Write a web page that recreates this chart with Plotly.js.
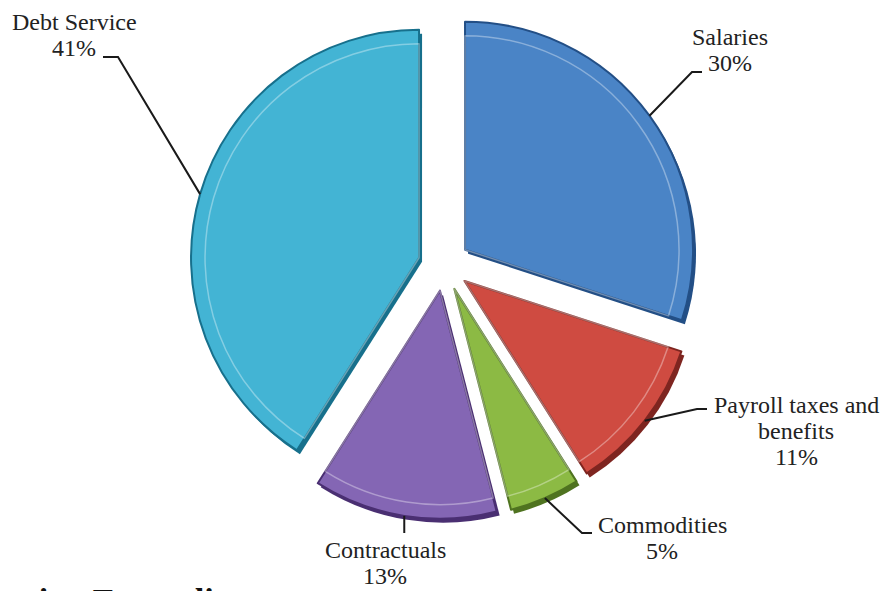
<!DOCTYPE html>
<html>
<head>
<meta charset="utf-8">
<script src="https://cdn.plot.ly/plotly-3.0.1.min.js"></script>
<style>html,body{margin:0;padding:0;background:#fff;overflow:hidden}#chart{width:886px;height:591px}</style>
</head>
<body>
<div id="chart"></div>
<script>
// ---- data ----
const categories = ['Salaries', 'Payroll taxes and benefits', 'Commodities', 'Contractuals', 'Debt Service'];
const values = [30, 11, 5, 13, 41];
const percentLabels = ['30%', '11%', '5%', '13%', '41%'];
const labelLines = [['Salaries'], ['Payroll taxes and', 'benefits'], ['Commodities'], ['Contractuals'], ['Debt Service']];
const pageTitle = 'Operation Expenditures';

// ---- styling / layout ----
const W = 886, H = 591;
const faceColors = ['#4a84c6', '#cf4b41', '#8cba44', '#8466b4', '#43b4d4'];
const edgeColors = ['#234f86', '#7e2520', '#4f7320', '#4a2f72', '#17708c'];
const CX = 444, CY = 265, R = 228, PULL = 0.114;
const half = R * (1 + PULL);
const px = x => x / W, py = y => 1 - y / H;
const dom = {x: [px(CX - half), px(CX + half)], y: [py(CY + half), py(CY - half)]};
const shift = (d, dx, dy) => ({x: [d.x[0] + dx / W, d.x[1] + dx / W], y: [d.y[0] - dy / H, d.y[1] - dy / H]});

// label placement (centre x, first baseline y) and elbow / end of leader line
const labelPos = [[730, 45], [796, 413], [662, 533], [385, 558], [74, 30]];
const elbows = [[[692, 72], [702, 72]], [[697, 409], [707, 409]], [[582, 533], [592, 533]], [null, 533], [[118, 57], [103, 57]]];
const FS = 24, LH = 26;

const common = {
  type: 'pie', labels: categories, values: values, sort: false, direction: 'clockwise',
  rotation: 0, textinfo: 'none', hoverinfo: 'label+percent', showlegend: false,
  pull: values.map(() => PULL)
};
const traces = [
  Object.assign({}, common, {domain: shift(dom, 3, 4), marker: {colors: edgeColors, line: {width: 0}}}),
  Object.assign({}, common, {domain: dom, marker: {colors: faceColors, line: {color: edgeColors, width: 2}}})
];
// inner bevel ring: same apex, smaller radius
const Ri = R - 14;
const halfI = Ri + PULL * R;
const domI = {x: [px(CX - halfI), px(CX + halfI)], y: [py(CY + halfI), py(CY - halfI)]};
traces.push(Object.assign({}, common, {
  domain: domI, pull: values.map(() => PULL * R / Ri),
  marker: {colors: faceColors.map(() => 'rgba(0,0,0,0)'), line: {color: 'rgba(255,255,255,0.35)', width: 1.5}},
  hoverinfo: 'skip'
}));

// leader lines from slice mid-angle on the outer edge
const total = values.reduce((a, b) => a + b, 0);
const shapes = [], annotations = [];
let cum = 0;
values.forEach((v, i) => {
  const mid = (cum + v / 2) / total * 2 * Math.PI;
  cum += v;
  const sx = Math.sin(mid), sy = -Math.cos(mid);
  const tip = [CX + (PULL * R + R) * sx, CY + (PULL * R + R) * sy];
  let pts;
  if (elbows[i][0] === null) pts = [tip, [tip[0], elbows[i][1]]];
  else pts = [tip, elbows[i][0], elbows[i][1]];
  const d = pts.map((p, k) => (k ? 'L' : 'M') + px(p[0]) + ',' + py(p[1])).join(' ');
  shapes.push({type: 'path', xref: 'paper', yref: 'paper', path: d, line: {color: '#1a1a1a', width: 2}});
  const lines = labelLines[i].concat([percentLabels[i]]);
  lines.forEach((t, k) => {
    annotations.push({
      xref: 'paper', yref: 'paper', x: px(labelPos[i][0]), y: py(labelPos[i][1] + k * LH - 8),
      xanchor: 'center', yanchor: 'middle', showarrow: false, text: t,
      font: {family: 'Liberation Serif, Times New Roman, serif', size: FS, color: '#222'}
    });
  });
});
annotations.push({
  xref: 'paper', yref: 'paper', x: px(-67), y: py(611 - 11), xanchor: 'left', yanchor: 'middle',
  showarrow: false, text: '<b>' + pageTitle + '</b>',
  font: {family: 'Liberation Serif, Times New Roman, serif', size: 34, color: '#111'}
});

Plotly.newPlot('chart', traces, {
  width: W, height: H, margin: {l: 0, r: 0, t: 0, b: 0},
  paper_bgcolor: '#fff', plot_bgcolor: '#fff', shapes: shapes, annotations: annotations
}, {displayModeBar: false, staticPlot: true});
</script>
</body>
</html>
